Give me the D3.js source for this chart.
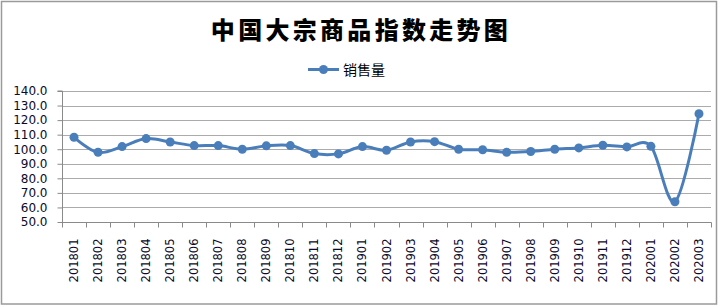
<!DOCTYPE html>
<html>
<head>
<meta charset="utf-8">
<script src="https://cdn.jsdelivr.net/npm/d3@7"></script>
<style>
  html, body { margin: 0; padding: 0; background: #fff; }
  svg { display: block; }
</style>
</head>
<body>
<svg id="chart" width="720" height="307"></svg>
<script>
// data
const months = ["201801", "201802", "201803", "201804", "201805", "201806", "201807", "201808",
  "201809", "201810", "201811", "201812", "201901", "201902", "201903", "201904", "201905",
  "201906", "201907", "201908", "201909", "201910", "201911", "201912", "202001", "202002", "202003"];
const sales = [108.2, 97.9, 101.8, 107.3, 105.0, 102.5, 102.5, 100.0,
  102.3, 102.5, 97.0, 96.8, 101.8, 99.3, 105.0, 105.2, 100.0,
  99.6, 97.9, 98.4, 100.0, 100.9, 102.7, 101.6, 102.0, 63.9, 124.4];
const yTicks = [50, 60, 70, 80, 90, 100, 110, 120, 130, 140];

const svg = d3.select('#chart');
const blue = '#4a7ebb';

// outer frame
svg.append('rect')
  .attr('x', 1.5).attr('y', 1.5)
  .attr('width', 715).attr('height', 302.5)
  .attr('fill', '#fff')
  .attr('stroke', '#9a9a9a')
  .attr('stroke-width', 1.5);

// title
svg.append('text')
  .attr('x', 361)
  .attr('y', 39)
  .attr('text-anchor', 'middle')
  .attr('font-family', '"Noto Sans CJK SC", sans-serif')
  .attr('font-weight', 900)
  .attr('font-size', '24px')
  .attr('letter-spacing', '3.3px')
  .attr('fill', '#000')
  .text('中国大宗商品指数走势图');

// legend
const legend = svg.append('g');
legend.append('line')
  .attr('x1', 308).attr('x2', 339)
  .attr('y1', 69.5).attr('y2', 69.5)
  .attr('stroke', blue).attr('stroke-width', 3);
legend.append('circle')
  .attr('cx', 323.5).attr('cy', 69.5).attr('r', 4.5)
  .attr('fill', blue);
legend.append('text')
  .attr('x', 343).attr('y', 74.5)
  .attr('font-family', '"Noto Sans CJK SC", sans-serif')
  .attr('font-size', '14px')
  .attr('fill', '#000')
  .text('销售量');

// scales
const x = d3.scaleBand().domain(months).range([62, 711]).padding(0);
const y = d3.scaleLinear().domain([50, 140]).range([222, 91]);

// gridlines
svg.append('g')
  .selectAll('line')
  .data(yTicks.filter(d => d > 50))
  .enter()
  .append('line')
  .attr('x1', 62).attr('x2', 711)
  .attr('y1', d => Math.round(y(d)) + 0.5)
  .attr('y2', d => Math.round(y(d)) + 0.5)
  .attr('stroke', '#ababab')
  .attr('stroke-width', 1);

// y axis
const yAxis = svg.append('g')
  .attr('transform', 'translate(62.5,0)')
  .call(d3.axisLeft(y).tickValues(yTicks).tickSize(5).tickPadding(10).tickFormat(d3.format('.1f')));
yAxis.select('.domain').attr('stroke', '#8a8a8a').attr('d', `M-5,${y(140)}H0V${y(50)}`);
yAxis.selectAll('.tick line').attr('stroke', '#8a8a8a');
yAxis.selectAll('.tick text')
  .attr('font-family', '"DejaVu Sans", Verdana, sans-serif')
  .attr('font-size', '12px')
  .attr('fill', '#0a0a2a');

// x axis with ticks between categories
const xAxis = svg.append('g').attr('transform', `translate(0,${Math.round(y(50)) + 0.5})`);
xAxis.append('line')
  .attr('x1', 62).attr('x2', 711.5)
  .attr('stroke', '#8a8a8a');
xAxis.selectAll('line.tk')
  .data(months.concat(['end']))
  .enter()
  .append('line')
  .attr('class', 'tk')
  .attr('x1', (d, i) => Math.round(62 + i * x.bandwidth()) + 0.5)
  .attr('x2', (d, i) => Math.round(62 + i * x.bandwidth()) + 0.5)
  .attr('y1', 0).attr('y2', 5)
  .attr('stroke', '#8a8a8a');
xAxis.selectAll('text')
  .data(months)
  .enter()
  .append('text')
  .attr('transform', d => `translate(${x(d) + x.bandwidth() / 2 + 4},16) rotate(-90)`)
  .attr('text-anchor', 'end')
  .attr('font-family', '"DejaVu Sans", Verdana, sans-serif')
  .attr('font-size', '11.5px')
  .attr('fill', '#0a0a2a')
  .text(d => d);

// series
const pts = months.map((m, i) => [x(m) + x.bandwidth() / 2, y(sales[i])]);
svg.append('path')
  .datum(pts)
  .attr('fill', 'none')
  .attr('stroke', blue)
  .attr('stroke-width', 3)
  .attr('stroke-linejoin', 'round')
  .attr('d', d3.line().curve(d3.curveCardinal.tension(0)));

svg.selectAll('circle.pt')
  .data(pts)
  .enter()
  .append('circle')
  .attr('class', 'pt')
  .attr('cx', d => d[0])
  .attr('cy', d => d[1])
  .attr('r', 4.5)
  .attr('fill', blue);
</script>
</body>
</html>
